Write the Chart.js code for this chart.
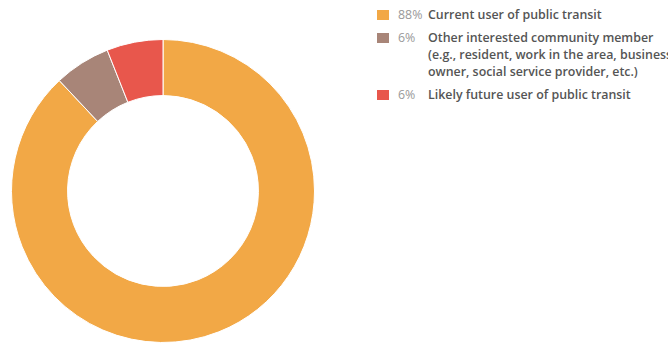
<!DOCTYPE html>
<html>
<head>
<meta charset="utf-8">
<script src="https://cdn.jsdelivr.net/npm/chart.js@4/dist/chart.umd.min.js"></script>
<style>
  body { margin: 0; background: #fff; font-family: "Open Sans", sans-serif; }
  #wrap { position: relative; width: 668px; height: 344px; overflow: hidden; }
  #chartBox { position: absolute; left: 0; top: 0; width: 326px; height: 344px; }
  #legend { position: absolute; left: 377px; top: 6px; width: 300px; font-size: 12.4px; font-weight: 600; color: #555; }
  .row { position: relative; padding-left: 51px; line-height: 17px; margin-bottom: 6px; white-space: nowrap; }
  .box { position: absolute; left: 0; top: 4px; width: 12px; height: 10px; }
  .pct { position: absolute; left: 21px; top: 0; color: #999; font-weight: 400; }
</style>
</head>
<body>
<div id="wrap">
  <div id="chartBox"><canvas id="donut"></canvas></div>
  <div id="legend"></div>
</div>
<script>
const categories = [
  "Current user of public transit",
  "Other interested community member\n(e.g., resident, work in the area, business\nowner, social service provider, etc.)",
  "Likely future user of public transit"
];
const shares = [88, 6, 6];
const percentLabels = ["88%", "6%", "6%"];
const colours = ["#F2A846", "#A88578", "#E8574C"];

function buildLegend() {
  const legend = document.getElementById("legend");
  categories.forEach((name, i) => {
    const row = document.createElement("div");
    row.className = "row";
    const box = document.createElement("span");
    box.className = "box";
    box.style.background = colours[i];
    const pct = document.createElement("span");
    pct.className = "pct";
    pct.textContent = percentLabels[i];
    row.appendChild(box);
    row.appendChild(pct);
    name.split("\n").forEach((line, j) => {
      if (j > 0) row.appendChild(document.createElement("br"));
      row.appendChild(document.createTextNode(line));
    });
    legend.appendChild(row);
  });
}

new Chart(document.getElementById("donut"), {
  type: "doughnut",
  data: {
    labels: categories,
    datasets: [{
      data: shares,
      backgroundColor: colours,
      borderColor: "#fff",
      borderWidth: 1
    }]
  },
  options: {
    responsive: true,
    maintainAspectRatio: false,
    animation: false,
    cutout: "63%",
    layout: { padding: { top: 39, bottom: 1, left: 11, right: 11 } },
    plugins: { legend: { display: false }, tooltip: { enabled: false } }
  }
});
buildLegend();
</script>
</body>
</html>
